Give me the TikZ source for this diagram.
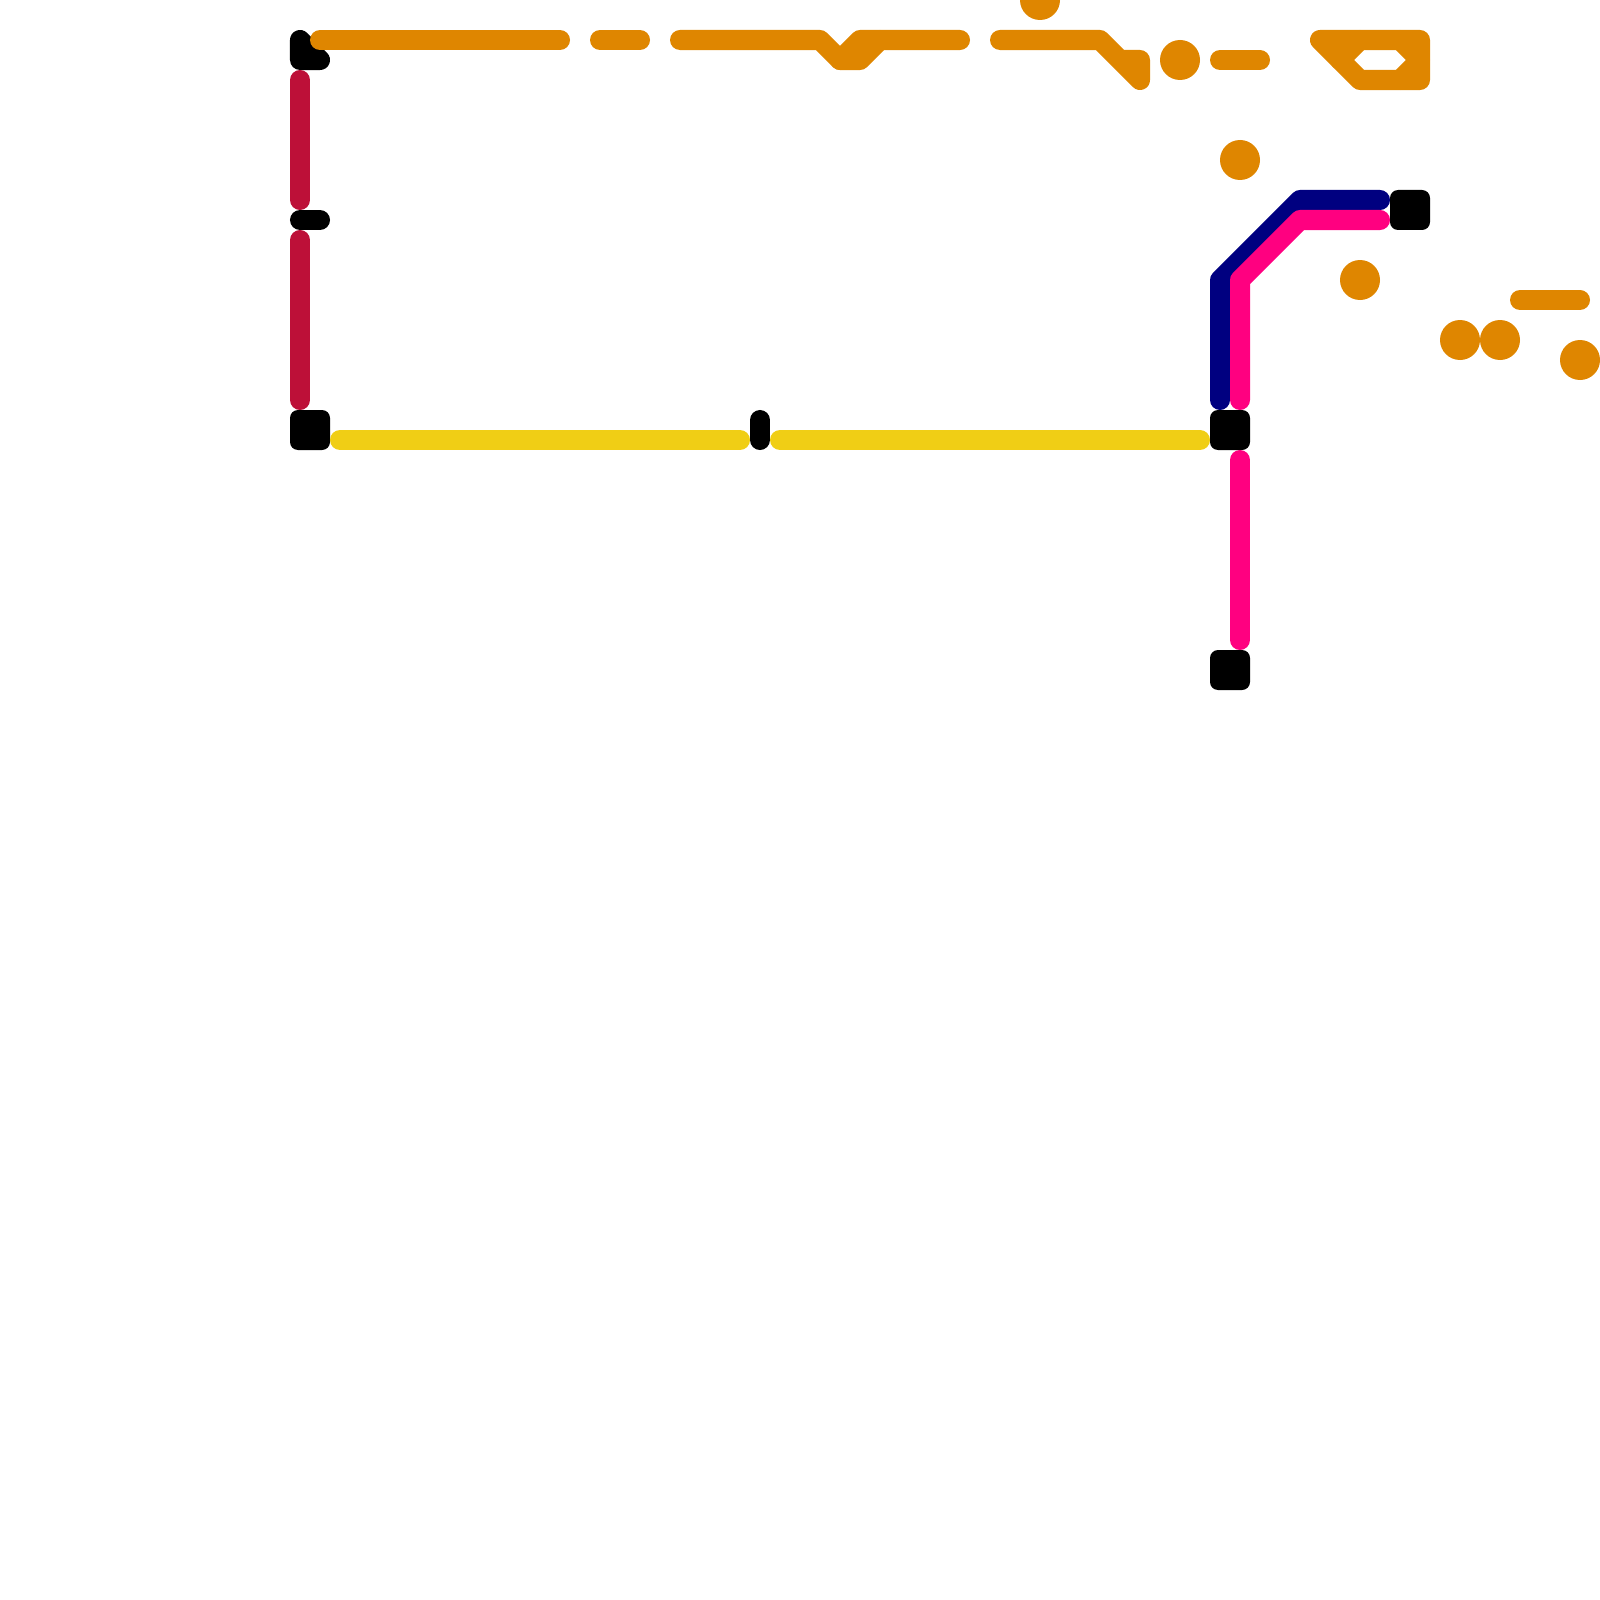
\documentclass[tikz,border=0pt]{standalone}
\usepackage{xcolor}
\definecolor{lineorange}{HTML}{DF8600}
\definecolor{linecrimson}{HTML}{BD1038}
\definecolor{lineyellow}{HTML}{F0CE15}
\definecolor{linenavy}{HTML}{000080}
\definecolor{linepink}{HTML}{FF0080}

\begin{document}
\begin{tikzpicture}[
    x=0.01cm, y=-0.01cm,
    rail/.style={line width=2mm, line cap=round, line join=round},
    hub/.style={fill=black, rounded corners=0.8mm},
    stopdot/.style={fill=lineorange}
  ]
    \useasboundingbox (0,0) rectangle (1600,1600);
    % black stations
    \draw[rail, black, fill=black] (300,40) -- (300,60) -- (320,60) -- cycle;
    \draw[rail, black] (300,220) -- (320,220);
    \draw[rail, black] (760,420) -- (760,440);
    \fill[hub] (290,410) rectangle (330,450);
    \fill[hub] (1210,410) rectangle (1250,450);
    \fill[hub] (1210,650) rectangle (1250,690);
    \fill[hub] (1390,190) rectangle (1430,230);
    % crimson and yellow
    \draw[rail, linecrimson] (300,80) -- (300,200);
    \draw[rail, linecrimson] (300,240) -- (300,400);
    \draw[rail, lineyellow] (340,440) -- (740,440);
    \draw[rail, lineyellow] (780,440) -- (1200,440);
    % navy and pink
    \draw[rail, linenavy] (1220,400) -- (1220,280) -- (1300,200) -- (1380,200);
    \draw[rail, linepink] (1240,400) -- (1240,280) -- (1300,220) -- (1380,220);
    \draw[rail, linepink] (1240,460) -- (1240,640);
    % orange
    \draw[rail, lineorange] (320,40) -- (560,40);
    \draw[rail, lineorange] (600,40) -- (640,40);
    \draw[rail, lineorange] (680,40) -- (820,40) -- (840,60) -- (860,60) -- (880,40);
    \draw[rail, lineorange] (840,60) -- (860,40) -- (960,40);
    \draw[rail, lineorange] (1000,40) -- (1100,40) -- (1140,80) -- (1140,60) -- (1120,60);
    \draw[rail, lineorange] (1220,60) -- (1260,60);
    \draw[rail, lineorange] (1320,40) -- (1420,40) -- (1420,80) -- (1360,80) -- cycle;
    \draw[rail, lineorange] (1360,40) -- (1340,60);
    \draw[rail, lineorange] (1400,40) -- (1420,60) -- (1400,80);
    \draw[rail, lineorange] (1520,300) -- (1580,300);
    \foreach \px/\py in {1040/0, 1180/60, 1240/160, 1360/280, 1460/340, 1500/340, 1580/360}
      \fill[stopdot] (\px,\py) circle (20);
  \end{tikzpicture}
\end{document}
